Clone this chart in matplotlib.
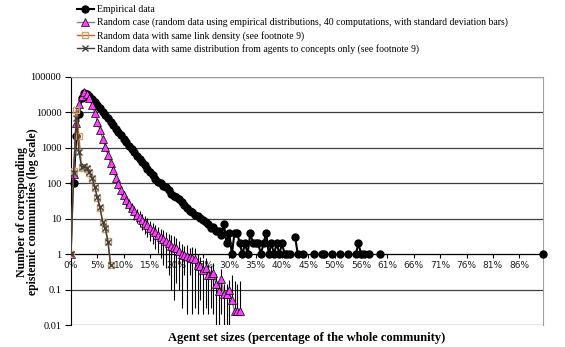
import numpy as np
import matplotlib.pyplot as plt
from matplotlib.ticker import NullLocator

# x axis: categories (agent set sizes), labelled every 10 categories
n_cat = 180
tick_labels = ['0%', '5%', '10%', '15%', '20%', '25%', '30%', '35%', '40%',
               '45%', '50%', '56%', '61%', '66%', '71%', '76%', '81%', '86%']

# Empirical data, categories 1..83
emp_main = [100, 2200, 9000, 25000, 36000, 34000, 29000, 24000, 20000, 16000,
            13000, 10500, 8500, 6800, 5500, 4400, 3500, 2800, 2250, 1800,
            1450, 1150, 920, 760, 600, 480, 390, 320, 260, 210,
            170, 130, 110, 100, 85, 80, 65, 50, 45, 40,
            36, 30, 25, 20, 16, 15, 13, 12, 10.5, 9,
            8, 7, 5.5, 6, 4.5, 4.5, 3.5, 7, 2, 4,
            1, 4, 4, 2, 1, 2, 1, 4, 2, 2,
            2, 1, 2, 4, 1, 2, 1, 2, 1, 2,
            1, 1, 1]
# Empirical data, sparse tail
emp_tail_x = [85, 86, 88, 92, 95, 96, 99, 102, 105, 108, 109, 110, 111, 113, 117, 179]
emp_tail_y = [3, 1, 1, 1, 1, 1, 1, 1, 1, 1, 2, 1, 1, 1, 1, 1]

# Random case (mean of 40 computations), categories 0..64
rand_mean = [1, 180, 5000, 17000, 30000, 37000, 33000, 25000, 16000, 9500,
             5500, 3200, 1800, 1050, 620, 370, 230, 145, 95, 65,
             46, 34, 26, 20, 16, 13, 11, 9.3, 7.8, 6.6,
             5.6, 4.8, 4.1, 3.5, 3.0, 2.6, 2.3, 2.0, 1.75, 1.6,
             1.5, 1.25, 1.0, 0.95, 0.9, 0.85, 0.8, 0.75, 0.5, 0.45,
             0.35, 0.4, 0.25, 0.25, 0.3, 0.14, 0.09, 0.2, 0.075, 0.075,
             0.1, 0.05, 0.025, 0.025, 0.025]
rand_std = [0, 0, 0, 0, 0, 0, 0, 0, 0, 0,
            400, 300, 200, 130, 90, 60, 45, 32, 24, 18,
            14, 11, 9, 7.5, 6.5, 5.5, 5, 4.5, 4, 3.6,
            3.2, 2.9, 2.7, 2.4, 2.2, 2.1, 1.9, 1.75, 1.65, 1.55,
            1.35, 1.15, 0.97, 0.7, 0.88, 0.6, 0.78, 0.72, 0.48, 0.4,
            0.33, 0.37, 0.23, 0.22, 0.28, 0.13, 0.085, 0.18, 0.07, 0.07,
            0.09, 0.2, 0.15, 0.12, 0.15]

# Random data with same link density, categories 0..15
dens = [1, 220, 12000, 2200, 270, 280, 260, 200, 130, 75,
        38, 20, 8, 5, 2.4, 0.5]
# Random data with same agent->concept distribution, categories 0..15
dist = [1, 200, 7000, 750, 290, 300, 270, 210, 140, 80,
        40, 21, 8, 5.5, 2.2, 0.5]

serif = ['Liberation Serif', 'DejaVu Serif']

fig = plt.figure(figsize=(5.65, 3.47), dpi=100)
ax = fig.add_axes([0.1257, 0.0634, 0.8354, 0.7147])
ax.set_yscale('log')
# horizontal axis crosses at 1 (set first: this resets the x ticks)
ax.spines['bottom'].set_position(('data', 1))
ax.spines['top'].set_color('#a0a0a0')
ax.spines['right'].set_color('#a0a0a0')

emp = np.full(n_cat, np.nan)
emp[1:1 + len(emp_main)] = emp_main
emp[emp_tail_x] = emp_tail_y
x_all = np.arange(n_cat)

rm = np.array(rand_mean)
rs = np.array(rand_std)
xr = np.arange(len(rm))
lower = np.where(rs < rm, rs, 0)  # Excel drops bars that go below zero

ax.errorbar(xr, rm, yerr=[lower, rs], fmt='none', ecolor='black',
            elinewidth=0.8, capsize=0, zorder=2)

h1, = ax.plot(x_all, emp, '-o', color='black', lw=1.5, ms=5, zorder=3, clip_on=False)
h2, = ax.plot(xr, rm, '-^', color='#808080', lw=1, mfc='#ff40ff', mec='black',
              mew=0.5, ms=5.5, zorder=4)
xd = np.arange(len(dens))
h3, = ax.plot(xd, dens, '-s', color='#c8601e', lw=1, mfc='none', mec='#c8a46e',
              mew=1, ms=4.5, zorder=5)
h4, = ax.plot(xd, dist, '-x', color='#404040', lw=1, ms=4, mew=1, zorder=6)

ax.set_xlim(0, n_cat - 1)
ax.set_ylim(0.01, 100000)

yt = [0.01, 0.1, 1, 10, 100, 1000, 10000, 100000]
ax.set_yticks(yt)
ax.set_yticklabels(['0.01', '0.1', '1', '10', '100', '1000', '10000', '100000'])
ax.yaxis.set_minor_locator(NullLocator())
ax.set_xticks(np.arange(0, 10 * len(tick_labels), 10))
ax.set_xticklabels(tick_labels)
ax.tick_params(axis='x', length=3, pad=2, labelsize=6.5, labelcolor='#202020')
ax.tick_params(axis='y', length=4, pad=3, labelsize=7.5)
for t in ax.get_yticklabels():
    t.set_family(serif)

ax.yaxis.grid(True, color='#404040', lw=0.9)

fig.text(0.049, 0.39, 'Number of corresponding\nepistemic communities (log scale)',
         rotation=90, ha='center', va='center', fontweight='bold',
         family=serif, fontsize=8.5, linespacing=0.9)
fig.text(0.543, 0.026, 'Agent set sizes (percentage of the whole community)',
         ha='center', va='center', fontweight='bold', family=serif, fontsize=9)

labels = ['Empirical data',
          'Random case (random data using empirical distributions, 40 computations, with standard deviation bars)',
          'Random data with same link density (see footnote 9)',
          'Random data with same distribution from agents to concepts only (see footnote 9)']
fig.legend([h1, h2, h3, h4], labels, loc='upper left', bbox_to_anchor=(0.136, 0.985),
           frameon=False, borderpad=0, borderaxespad=0, handlelength=1.75,
           handletextpad=0.3, labelspacing=0.35, prop={'family': serif, 'size': 7})

fig.savefig('out.png', dpi=100)
